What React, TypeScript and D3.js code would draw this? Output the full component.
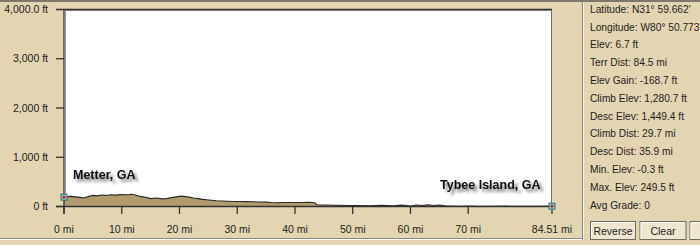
import React from "react";
import * as d3 from "d3";

const miles = [0, 0.5, 1.2, 2, 2.8, 3.4, 4.2, 5, 5.8, 6.5, 7.3, 8, 9, 10, 11, 11.8, 12.5, 13.2, 14, 15, 16, 17, 17.8, 18.6, 19.5, 20.3, 21, 21.7, 22.4, 23.2, 24, 24.7, 25.5, 26.4, 27.5, 28.3, 29.3, 30.5, 31.5, 32.7, 33.8, 35, 36, 36.8, 38, 39.5, 41, 42.3, 43.1, 43.5, 43.8, 45, 47, 49.5, 51, 53, 55, 57, 58.5, 60, 61, 62, 63, 64, 65, 66, 67, 68.5, 70, 72, 74, 76, 78, 80, 82, 84.51];
const elevFt = [190, 200, 205, 196, 185, 172, 200, 226, 215, 232, 225, 240, 232, 244, 238, 249, 230, 205, 190, 160, 172, 155, 160, 180, 195, 210, 200, 190, 172, 160, 145, 137, 128, 117, 112, 108, 103, 100, 98, 96, 92, 88, 80, 76, 80, 82, 80, 84, 82, 70, 35, 30, 25, 20, 18, 15, 22, 12, 28, 10, 30, 18, 35, 20, 30, 12, 8, 5, 10, 6, 4, 8, 5, 3, 6, 7];

const yTicks = [0, 1000, 2000, 3000, 4000];
const yTickLabels = ["0 ft", "1,000 ft", "2,000 ft", "3,000 ft", "4,000.0 ft"];
const xTicks = [0, 10, 20, 30, 40, 50, 60, 70, 84.51];
const xTickLabels = ["0 mi", "10 mi", "20 mi", "30 mi", "40 mi", "50 mi", "60 mi", "70 mi", "84.51 mi"];

const infoLines = [
  "Latitude: N31° 59.662'",
  "Longitude: W80° 50.773'",
  "Elev: 6.7 ft",
  "Terr Dist: 84.5 mi",
  "Elev Gain: -168.7 ft",
  "Climb Elev: 1,280.7 ft",
  "Desc Elev: 1,449.4 ft",
  "Climb Dist: 29.7 mi",
  "Desc Dist: 35.9 mi",
  "Min. Elev: -0.3 ft",
  "Max. Elev: 249.5 ft",
  "Avg Grade: 0",
];
const buttons = ["Reverse", "Clear", ""];
const startLabel = "Metter, GA";
const endLabel = "Tybee Island, GA";

export default function App() {
  const W = 700, H = 245;
  const x = d3.scaleLinear().domain([0, 84.51]).range([64, 552]);
  const y = d3.scaleLinear().domain([0, 4000]).range([206.5, 9.5]);
  const pts = miles.map((m, i) => [m, elevFt[i]] as [number, number]);
  const area = d3.area<[number, number]>().x(d => x(d[0])).y0(y(0)).y1(d => y(d[1]));
  const line = d3.line<[number, number]>().x(d => x(d[0])).y(d => y(d[1]));
  const font = "'Liberation Sans', Arial, sans-serif";
  const bg = "#e3d4b2";
  const txt = "#1e1e1e";
  const btnX = [590, 639.5, 689.5];
  const btnW = [45, 46, 40];

  return (
    <svg width={W} height={H} style={{ position: "absolute", left: 0, top: 0, display: "block" }} fontFamily={font}>
      <defs>
        <filter id="sh" x="-20%" y="-60%" width="150%" height="250%">
          <feDropShadow dx="3" dy="3" stdDeviation="1.6" floodColor="#000" floodOpacity="0.55" />
        </filter>
      </defs>
      <rect x={0} y={0} width={W} height={H} fill={bg} />
      <rect x={0} y={0} width={W} height={2} fill="#7e786c" />
      {/* plot area */}
      <rect x={x(0)} y={y(4000)} width={x(84.51) - x(0)} height={y(0) - y(4000)} fill="#ffffff" />
      <line x1={x(84.51) - 0.5} x2={x(84.51) - 0.5} y1={y(4000)} y2={y(0)} stroke="#6d6d6d" strokeWidth={1} />
      <line x1={x(0) + 1.5} x2={x(84.51)} y1={y(4000) + 1} y2={y(4000) + 1} stroke="#9a968c" strokeWidth={1} />
      <line x1={x(0) + 1.5} x2={x(0) + 1.5} y1={y(4000)} y2={y(0)} stroke="#9a968c" strokeWidth={1} />
      {/* profile */}
      <path d={area(pts) || ""} fill="#b29b6c" />
      <path d={line(pts) || ""} fill="none" stroke="#2a2a2a" strokeWidth={1.1} />
      {/* axes */}
      <line x1={x(0)} x2={x(0)} y1={y(4000)} y2={214} stroke="#333" strokeWidth={1.3} />
      {yTicks.map((t, i) => (
        <g key={"y" + t}>
          <line x1={56} x2={i === 4 ? x(84.51) : x(0)} y1={y(t)} y2={y(t)} stroke="#333" strokeWidth={1.3} />
          <text x={48} y={y(t)} dy="0.35em" textAnchor="end" fontSize={10.5} fill={txt}>{yTickLabels[i]}</text>
        </g>
      ))}
      <line x1={56} x2={x(84.51)} y1={y(0)} y2={y(0)} stroke="#333" strokeWidth={1.3} />
      {xTicks.map((t, i) => (
        <g key={"x" + t}>
          <line x1={x(t)} x2={x(t)} y1={y(0)} y2={214} stroke="#333" strokeWidth={1.3} />
          <text x={x(t)} y={229} dy="0.35em" textAnchor="middle" fontSize={10.5} fill={txt}>{xTickLabels[i]}</text>
        </g>
      ))}
      {/* markers */}
      {[0, miles.length - 1].map(i => (
        <g key={"m" + i}>
          <rect x={x(miles[i]) - 3} y={y(elevFt[i]) - 3} width={6} height={6} fill="#8fc7c4" stroke="#2f6f78" strokeWidth={1} />
          <circle cx={x(miles[i])} cy={y(elevFt[i])} r={1.4} fill="#d01818" />
        </g>
      ))}
      {/* labels with shadow */}
      <text x={73} y={178.5} fontSize={12.5} fontWeight="bold" fill="#111" filter="url(#sh)">{startLabel}</text>
      <text x={440} y={188.5} fontSize={12.5} fontWeight="bold" fill="#111" filter="url(#sh)">{endLabel}</text>
      {/* bottom separator of left panel */}
      <line x1={0} x2={583} y1={238.5} y2={238.5} stroke="#8c8676" strokeWidth={1} />
      <line x1={0} x2={583} y1={239.5} y2={239.5} stroke="#ffffff" strokeWidth={1} />
      {/* right panel separator */}
      <line x1={582.5} x2={582.5} y1={2} y2={240} stroke="#8c8676" strokeWidth={1} />
      <line x1={583.5} x2={583.5} y1={2} y2={240} stroke="#fbf7ec" strokeWidth={1} />
      {infoLines.map((s, i) => (
        <text key={s} x={590} y={9.3 + i * 17.8} dy="0.35em" fontSize={10.2} fill={txt}>{s}</text>
      ))}
      {buttons.map((b, i) => (
        <g key={"b" + i}>
          <rect x={btnX[i] + 0.5} y={221.5} width={btnW[i]} height={18} fill="#efe6d0" stroke="#6f6a5e" strokeWidth={1} />
          <line x1={btnX[i] + 1.5} x2={btnX[i] + btnW[i] - 0.5} y1={222.5} y2={222.5} stroke="#ffffff" />
          <line x1={btnX[i] + 1.5} x2={btnX[i] + 1.5} y1={222.5} y2={239} stroke="#ffffff" />
          <text x={btnX[i] + 0.5 + btnW[i] / 2} y={231} dy="0.35em" textAnchor="middle" fontSize={10.5} fill={txt}>{b}</text>
        </g>
      ))}
    </svg>
  );
}
